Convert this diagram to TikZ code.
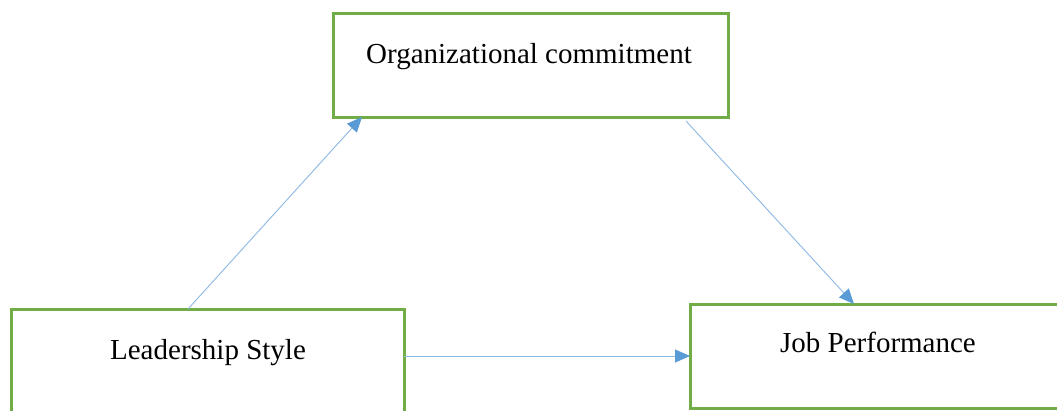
\documentclass[tikz,border=0pt]{standalone}
\usepackage{fontspec}
\setmainfont{Liberation Serif}
\usetikzlibrary{arrows.meta,calc}
\definecolor{boxgreen}{HTML}{70AD47}
\definecolor{arrowblue}{HTML}{5B9BD5}
\definecolor{lineblue}{HTML}{8DB8E4}
\begin{document}
\begin{tikzpicture}[x=1pt,y=-1pt,
  box/.style={draw=boxgreen,line width=3pt,rectangle,outer sep=0pt,inner sep=0pt,minimum width=#1,minimum height=104pt},
  lbl/.style={anchor=base,inner sep=0pt,font=\fontsize{29}{34}\selectfont},
  conn/.style={draw=lineblue,line width=0.9pt,-{Triangle[length=15pt,width=13pt,color=arrowblue,fill=arrowblue]}}]
\useasboundingbox (0,0) rectangle (1057,410);
\fill[white] (0,0) rectangle (1057,410);
\node[box=395pt] (org) at (530.5,65) {};
\node[box=393pt] (lead) at (207.5,361) {};
\node[box=395pt] (job) at (887.5,356) {};
\node[lbl] (orgt) at (529,63) {Organizational commitment};
\node[lbl] (leadt) at (208,359) {Leadership Style};
\node[lbl] (jobt) at (878,352) {Job Performance};
\draw[conn] ($(lead.north west)+(177,0)$) -- ($(org.south west)+(29,0)$);
\draw[conn] ($(org.south east)+(-42,4)$) -- ($(job.north west)+(164,0)$);
\draw[conn] (lead.east |- job.west) -- (job.west);
\end{tikzpicture}
\end{document}
